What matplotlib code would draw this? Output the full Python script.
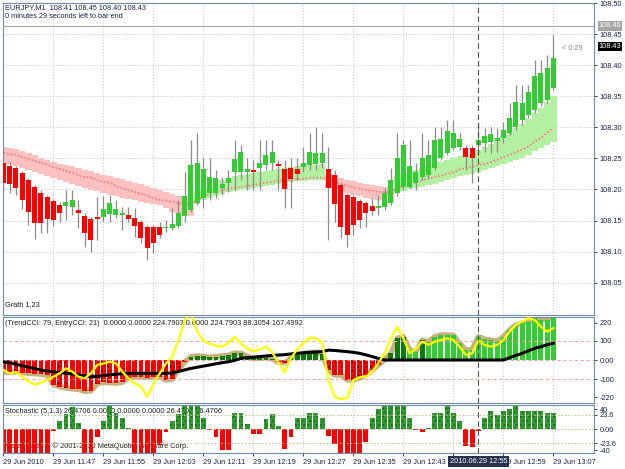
import numpy as np
import matplotlib
matplotlib.use('Agg')
import matplotlib.pyplot as plt
import matplotlib.transforms as mtransforms

plt.rcParams['font.family'] = ['Liberation Sans', 'DejaVu Sans']
plt.rcParams['hatch.linewidth'] = 0.7

# ============================================
# DATA  (EURJPY M1, one bar per minute 11:39 .. 13:07)
# ============================================

opens = [108.243, 108.238, 108.235, 108.227, 108.215, 108.204, 108.195, 108.188, 108.182, 108.175,
         108.174, 108.172, 108.167, 108.158, 108.153, 108.156, 108.156, 108.161, 108.159, 108.159,
         108.159, 108.154, 108.148, 108.140, 108.140, 108.140, 108.138, 108.138, 108.141, 108.158,
         108.167, 108.178, 108.186, 108.195, 108.195, 108.203, 108.211, 108.228, 108.228, 108.228,
         108.232, 108.235, 108.240, 108.243, 108.241, 108.233, 108.235, 108.233, 108.236, 108.240,
         108.241, 108.243, 108.233, 108.223, 108.207, 108.191, 108.188, 108.182, 108.178, 108.174,
         108.170, 108.172, 108.178, 108.195, 108.204, 108.204, 108.211, 108.220, 108.223, 108.235,
         108.251, 108.259, 108.267, 108.268, 108.267, 108.267, 108.272, 108.275, 108.277, 108.278,
         108.283, 108.291, 108.301, 108.312, 108.320, 108.328, 108.339, 108.344, 108.363]
highs = [108.251, 108.244, 108.238, 108.230, 108.219, 108.207, 108.199, 108.191, 108.185, 108.180,
         108.199, 108.199, 108.183, 108.162, 108.156, 108.188, 108.190, 108.191, 108.183, 108.172,
         108.172, 108.170, 108.151, 108.143, 108.143, 108.148, 108.151, 108.170, 108.183, 108.228,
         108.280, 108.291, 108.251, 108.251, 108.232, 108.220, 108.232, 108.280, 108.272, 108.251,
         108.248, 108.280, 108.280, 108.280, 108.248, 108.248, 108.251, 108.251, 108.268, 108.291,
         108.301, 108.291, 108.268, 108.232, 108.211, 108.195, 108.191, 108.185, 108.182, 108.186,
         108.191, 108.203, 108.235, 108.291, 108.280, 108.280, 108.243, 108.291, 108.280, 108.301,
         108.301, 108.312, 108.312, 108.291, 108.272, 108.272, 108.309, 108.299, 108.301, 108.299,
         108.309, 108.339, 108.368, 108.368, 108.368, 108.408, 108.408, 108.416, 108.449]
lows = [108.199, 108.195, 108.191, 108.169, 108.143, 108.121, 108.130, 108.130, 108.141, 108.148,
        108.151, 108.159, 108.138, 108.108, 108.100, 108.119, 108.148, 108.148, 108.154, 108.135,
        108.148, 108.124, 108.114, 108.087, 108.098, 108.122, 108.132, 108.135, 108.138, 108.148,
        108.164, 108.175, 108.170, 108.183, 108.186, 108.191, 108.196, 108.199, 108.215, 108.199,
        108.199, 108.199, 108.232, 108.232, 108.199, 108.170, 108.170, 108.215, 108.228, 108.232,
        108.232, 108.235, 108.119, 108.148, 108.122, 108.108, 108.127, 108.138, 108.140, 108.159,
        108.159, 108.167, 108.175, 108.190, 108.199, 108.203, 108.199, 108.215, 108.219, 108.232,
        108.248, 108.256, 108.264, 108.264, 108.232, 108.211, 108.256, 108.260, 108.259, 108.260,
        108.275, 108.288, 108.296, 108.304, 108.315, 108.323, 108.334, 108.339, 108.360]
closes = [108.211, 108.209, 108.203, 108.183, 108.164, 108.146, 108.146, 108.153, 108.151, 108.162,
          108.180, 108.183, 108.162, 108.130, 108.119, 108.153, 108.169, 108.178, 108.169, 108.162,
          108.153, 108.141, 108.122, 108.106, 108.114, 108.127, 108.140, 108.145, 108.162, 108.190,
          108.240, 108.243, 108.233, 108.220, 108.219, 108.209, 108.219, 108.249, 108.260, 108.233,
          108.228, 108.243, 108.256, 108.260, 108.238, 108.201, 108.217, 108.225, 108.243, 108.260,
          108.259, 108.259, 108.203, 108.177, 108.140, 108.127, 108.143, 108.151, 108.162, 108.166,
          108.174, 108.195, 108.215, 108.251, 108.272, 108.238, 108.228, 108.251, 108.256, 108.280,
          108.281, 108.294, 108.291, 108.281, 108.252, 108.251, 108.280, 108.286, 108.289, 108.283,
          108.296, 108.315, 108.341, 108.339, 108.357, 108.383, 108.387, 108.395, 108.411]

# trend band (upper / lower edge, middle line) and its colour: P pink, G green
band_hi = [108.269, 108.267, 108.265, 108.262, 108.259, 108.256, 108.251, 108.248, 108.244, 108.241,
           108.240, 108.238, 108.235, 108.232, 108.230, 108.227, 108.223, 108.222, 108.219, 108.217,
           108.214, 108.211, 108.209, 108.206, 108.203, 108.199, 108.196, 108.193, 108.190, 108.188,
           108.190, 108.195, 108.201, 108.206, 108.211, 108.215, 108.219, 108.222, 108.223, 108.225,
           108.227, 108.228, 108.230, 108.232, 108.233, 108.235, 108.236, 108.238, 108.238, 108.240,
           108.240, 108.241, 108.225, 108.222, 108.219, 108.216, 108.213, 108.211, 108.209, 108.207,
           108.206, 108.204, 108.203, 108.222, 108.225, 108.228, 108.232, 108.235, 108.238, 108.241,
           108.244, 108.248, 108.251, 108.254, 108.256, 108.259, 108.264, 108.269, 108.273, 108.280,
           108.286, 108.293, 108.299, 108.305, 108.313, 108.323, 108.331, 108.341, 108.350]
band_lo = [108.241, 108.240, 108.238, 108.235, 108.232, 108.228, 108.225, 108.222, 108.219, 108.215,
           108.212, 108.209, 108.206, 108.203, 108.199, 108.198, 108.195, 108.191, 108.190, 108.186,
           108.185, 108.183, 108.180, 108.178, 108.177, 108.175, 108.170, 108.164, 108.160, 108.157,
           108.158, 108.177, 108.183, 108.186, 108.190, 108.193, 108.196, 108.198, 108.199, 108.201,
           108.203, 108.204, 108.206, 108.207, 108.209, 108.211, 108.212, 108.214, 108.214, 108.215,
           108.215, 108.215, 108.203, 108.200, 108.197, 108.194, 108.191, 108.189, 108.187, 108.185,
           108.183, 108.182, 108.180, 108.195, 108.198, 108.200, 108.203, 108.204, 108.207, 108.209,
           108.212, 108.215, 108.219, 108.222, 108.223, 108.225, 108.228, 108.232, 108.235, 108.238,
           108.241, 108.244, 108.248, 108.251, 108.256, 108.262, 108.267, 108.272, 108.277]
band_mid = [108.259, 108.257, 108.256, 108.252, 108.249, 108.246, 108.243, 108.240, 108.236, 108.233,
            108.230, 108.227, 108.223, 108.220, 108.219, 108.215, 108.212, 108.211, 108.205, 108.202,
            108.199, 108.196, 108.193, 108.190, 108.186, 108.183, 108.182, 108.180, 108.178, 108.177,
            108.177, 108.183, 108.188, 108.193, 108.196, 108.199, 108.201, 108.203, 108.204, 108.206,
            108.207, 108.209, 108.211, 108.212, 108.214, 108.215, 108.215, 108.217, 108.217, 108.219,
            108.219, 108.219, 108.216, 108.212, 108.209, 108.206, 108.203, 108.201, 108.199, 108.198,
            108.196, 108.196, 108.196, 108.201, 108.205, 108.208, 108.211, 108.215, 108.217, 108.220,
            108.222, 108.225, 108.228, 108.232, 108.235, 108.236, 108.240, 108.241, 108.244, 108.248,
            108.252, 108.256, 108.260, 108.264, 108.269, 108.277, 108.283, 108.291, 108.299]
band_trend = ("PPPPPPPPPPPPPPPPPPPPPPPPPPPPPPP"
              "GGGGGGGGGGGGGGGGGGGGG"
              "PPPPPPPPPPP"
              "GGGGGGGGGGGGGGGGGGGGGGGGGG")

# TrendCCI (histogram + tan outline), EntryCCI (yellow), slow line (black)
trend_cci = [-63, -65, -62, -66, -70, -72, -75, -80, -130, -140, -148, -152, -155, -165, -162,
             -125, -118, -120, -122, -118, -92, -88, -90, -92, -88, -90, -105, -102, -50, -10,
             18, 22, 20, 15, 18, 22, 25, 37, 35, 20, 8, 8, 12, 5, -12, -15, 10, 25, 35, 40, 42, 30,
             -53, -79, -80, -105, -105, -95, -79, -53, -26, 2,
             35, 114, 123, 53, 44, 105, 96, 123, 132, 132, 130, 88, 53, 55, 123, 110, 105, 100,
             123, 158, 184, 193, 202, 221, 210, 212, 224.79]
entry_cci = [-53, -70, -63, -88, -114, -130, -120, -105, -88, -70, -44, -61, -88, -96, -70,
             -26, -18, -9, -18, -61, -96, -123, -140, -193, -123, -70, -18, 18,
             105, 210, 245, 150, 100, 85, 75, 70, 90, 122, 85, 60, 45, 55, 70, 40, -15, -65,
             10, 55, 90, 118, 115, 90,
             -105, -195, -205, -200, -105, -90, -88, -60, -16, 35, 114, 174, 114, 35, 60, 96,
             79, 96, 105, 114, 105, 70, 26, 35, 105, 79, 70, 79, 105, 149, 184, 202, 220, 210,
             175, 149, 167.5]
slow_cci = [-10, -15, -22, -30, -38, -45, -53, -58, -62, -66, -70, -73, -78, -84, -88,
            -86, -82, -78, -75, -72, -70, -70, -70, -70, -70, -70, -70, -68, -60, -52,
            -44, -38, -32, -26, -20, -14, -9, -2, 9, 12, 15, 18, 21, 24, 26, 28, 32, 35, 38,
            40, 42, 44, 52, 50, 47, 44, 40, 35, 27, 18, 8,
            0, 0, 0, 0, 0, 0, 0, 0, 0, 0, 0, 0, 0, 0, 0, 0, 0, 0, 0, 0,
            12, 24, 35, 48, 61, 70, 80, 88.3]
# histogram colour: R red, D dotted red, d dark green, g green
cci_kind = ("DDD RRRRRR DD RRRR DDD RRRRRRRR DDD R dddddddddddddd DD dddddd "
            "DDD R DDDDD dddd gg d ggggggggggggggggggggg").replace(' ', '')

stoch = [-45, -45, -45, -45, -45, -45, -45, -45, -3, 14, 25, 36, 10, -45, -45, -14,
         14, 45, 27, 19, 1, -45, -45, -45, -40, -27, -5, 14, 25, 45, 45, 38, 19,
         -1, -14, -35, -35, 27, 27, 8, -8, -8, 16, 25, 5, -33, -14, 19, 19, 26, 27, 19,
         -11, -25, -45, -45, -45, -45, -22, 19, 33, 45, 45, 45, 45, 19, -2, -5,
         2, 27, 27, 45, 27, 14, -28, -30, -3, 19, 30, 23, 30, 33, 45, 30, 30, 30, 30, 26, 26.47]

# the 12:51 label sits under the crosshair time box in the terminal, so it stays blank
time_labels = ['29 Jun 2010', '29 Jun 11:47', '29 Jun 11:55', '29 Jun 12:03', '29 Jun 12:11',
               '29 Jun 12:19', '29 Jun 12:27', '29 Jun 12:35', '29 Jun 12:43', '',
               '29 Jun 12:59', '29 Jun 13:07']
price_ticks = [108.05, 108.10, 108.15, 108.20, 108.25, 108.30, 108.35, 108.40, 108.45, 108.50]
cci_levels = [100, 0, -100]
stoch_levels = [23.6, 0, -23.6]
cross_bar = 76
cross_price = 108.463
last_price = 108.43

assert len(opens) == len(band_hi) == len(band_trend) == len(trend_cci) == len(entry_cci) \
    == len(slow_cci) == len(cci_kind) == len(stoch) == 89

# ============================================
# FIGURE
# ============================================

W, H = 625, 469
TXT = '#17264A'
FRAME = '#6E8BA8'
GRID = '#C8C8C8'
FS = 5.3

fig = plt.figure(figsize=(W / 100, H / 100), dpi=100)
fig.patch.set_facecolor('white')


def panel(top, bottom):
    return fig.add_axes([3 / W, 1 - bottom / H, 591 / W, (bottom - top) / H])


ax = panel(3, 315)
ax_cci = panel(317, 403)
ax_st = panel(405, 453)

x = np.arange(len(opens))
tick_bars = x[::8]


def style(a):
    a.set_xlim(-0.08, 94.5)
    for s in a.spines.values():
        s.set_color(FRAME)
        s.set_linewidth(0.8)
    a.yaxis.tick_right()
    a.tick_params(axis='y', direction='out', length=2.5, width=0.6, pad=1.5,
                  labelsize=FS, colors=TXT)
    a.set_xticks(tick_bars)
    a.tick_params(axis='x', length=0, labelbottom=False)
    a.grid(axis='x', color=GRID, linestyle=(0, (1.5, 2)), linewidth=0.6)
    a.set_axisbelow(True)
    a.axvline(cross_bar, color='#505050', lw=0.8, ls=(0, (5, 3)), zorder=6)


for a in (ax, ax_cci, ax_st):
    style(a)

# ---- main price chart ----
o = np.array(opens)
c = np.array(closes)
band_cols = ['#FFC0C0' if t == 'P' else '#B4F0A2' for t in band_trend]
ax.bar(x, np.array(band_hi) - np.array(band_lo), bottom=band_lo, width=1.0,
       color=band_cols, linewidth=0, zorder=1)
ax.plot(x, band_mid, color='#F08585', lw=1.3, ls=(0, (1, 1)), zorder=1.5)
ax.vlines(x, lows, highs, color='#8C8C8C', lw=0.9, zorder=2)
body_cols = ['#33CC33' if cc >= oo else '#FF0000' for oo, cc in zip(o, c)]
ax.bar(x, np.maximum(np.abs(c - o), 0.0008), bottom=np.minimum(o, c), width=0.8,
       color=body_cols, linewidth=0, zorder=3)

ax.set_ylim(107.998, 108.5)
ax.set_yticks(price_ticks)
ax.set_yticklabels([f'{v:.2f}' for v in price_ticks])
ax.grid(axis='y', color=GRID, linestyle=(0, (1.5, 2)), linewidth=0.6)
ax.axhline(cross_price, color='#A8A8A8', lw=0.8, zorder=6)

ytr = mtransforms.blended_transform_factory(ax.transAxes, ax.transData)
ax.text(1.008, cross_price, f'{cross_price:.2f}', transform=ytr, ha='left', va='center',
        fontsize=FS, color='white', clip_on=False, zorder=10,
        bbox=dict(boxstyle='square,pad=0.15', fc='#A6A6A6', ec='none'))
ax.text(1.008, last_price, f'{last_price:.2f}', transform=ytr, ha='left', va='center',
        fontsize=FS, color='white', clip_on=False, zorder=10,
        bbox=dict(boxstyle='square,pad=0.15', fc='black', ec='none'))
ax.text(0.946, 0.853, '< 0:29', transform=ax.transAxes, fontsize=FS, color='#8A8A8A',
        ha='left', va='center')
ax.text(0.0034, 0.987, 'EURJPY,M1  108.41 108.45 108.40 108.43', transform=ax.transAxes,
        fontsize=FS, color=TXT, ha='left', va='center', zorder=10)
ax.text(0.0034, 0.958, '0 minutes 29 seconds left to bar end', transform=ax.transAxes,
        fontsize=FS, color=TXT, ha='left', va='center', zorder=10)
ax.text(0.0034, 0.032, 'Grath 1.23', transform=ax.transAxes, fontsize=FS, color='#202020',
        ha='left', va='center', zorder=10)

# ---- CCI panel ----
kind_style = {
    'R': dict(color='#FF0000'),
    'D': dict(facecolor='#FF0000', edgecolor='#7A0000', hatch='....'),
    'd': dict(color='#0E7A0E'),
    'g': dict(color='#33CC33'),
}
tc = np.array(trend_cci, dtype=float)
for k, st in kind_style.items():
    m = np.array([kk == k for kk in cci_kind])
    ax_cci.bar(x[m], tc[m], width=0.78, linewidth=0, zorder=2, **st)
ax_cci.plot(x, trend_cci, color='#C6B27C', lw=3.8, solid_capstyle='round',
            solid_joinstyle='round', zorder=1.8)
for lv in cci_levels:
    ax_cci.axhline(lv, color='#FF9A9A', lw=0.7, ls=(0, (3, 3)), zorder=2.5)
ax_cci.plot(x, slow_cci, color='black', lw=2.2, zorder=4)
ax_cci.plot(x, entry_cci, color='#FFFF00', lw=1.6, zorder=5)
ax_cci.set_ylim(-226, 226)
ax_cci.set_yticks([196, 100, 0, -100, -196])
ax_cci.set_yticklabels(['220', '100', '0.00', '-100', '-220'])
ax_cci.text(0.0034, 0.92, '(TrendCCI: 79, EntryCCI: 21)  0.0000 0.0000 224.7903 0.0000 '
            '224.7903 88.3054 167.4992', transform=ax_cci.transAxes, fontsize=FS,
            color='#202020', ha='left', va='center', zorder=1)

# ---- Stochastic panel ----
sv = np.array(stoch, dtype=float)
pos = sv >= 0
ax_st.bar(x[pos], sv[pos], width=0.78, facecolor='#2F9A2F', edgecolor='#136813',
          hatch='....', linewidth=0, zorder=2)
ax_st.bar(x[~pos], sv[~pos], width=0.78, color='#FF0000', linewidth=0, zorder=2)
for lv in stoch_levels:
    ax_st.axhline(lv, color='#BEBE8C', lw=0.7, ls=(0, (1.5, 2)), zorder=2.5)
ax_st.set_ylim(-40, 40)
ax_st.set_yticks([33, 23.6, 0, -23.6, -35])
ax_st.set_yticklabels(['40', '23.6', '0.00', '-23.6', '-40'])
ax_st.text(0.0034, 0.875, 'Stochastic (5,1,3) 26.4706 0.0000 0.0000 0.0000 26.4706 26.4706',
           transform=ax_st.transAxes, fontsize=FS, color='#202020', ha='left', va='center',
           zorder=1)
ax_st.text(0.0034, 0.146, 'MetaTrader 4, \u00a9 2001-2010 MetaQuotes Software Corp.',
           transform=ax_st.transAxes, fontsize=FS, color='#202020', ha='left', va='center',
           zorder=1)

ax_st.tick_params(axis='x', length=2.5, width=0.6, pad=1.5, labelbottom=True,
                  labelsize=FS, colors=TXT)
ax_st.set_xticklabels(time_labels, ha='left')
xtr = mtransforms.blended_transform_factory(ax_st.transData, ax_st.transAxes)
ax_st.text(cross_bar, -0.17, '2010.06.29 12:55', transform=xtr, ha='center', va='center',
           fontsize=FS, color='white', clip_on=False, zorder=10,
           bbox=dict(boxstyle='square,pad=0.25', fc='#26324E', ec='none'))

fig.savefig('out.png', dpi=100, facecolor='white')
